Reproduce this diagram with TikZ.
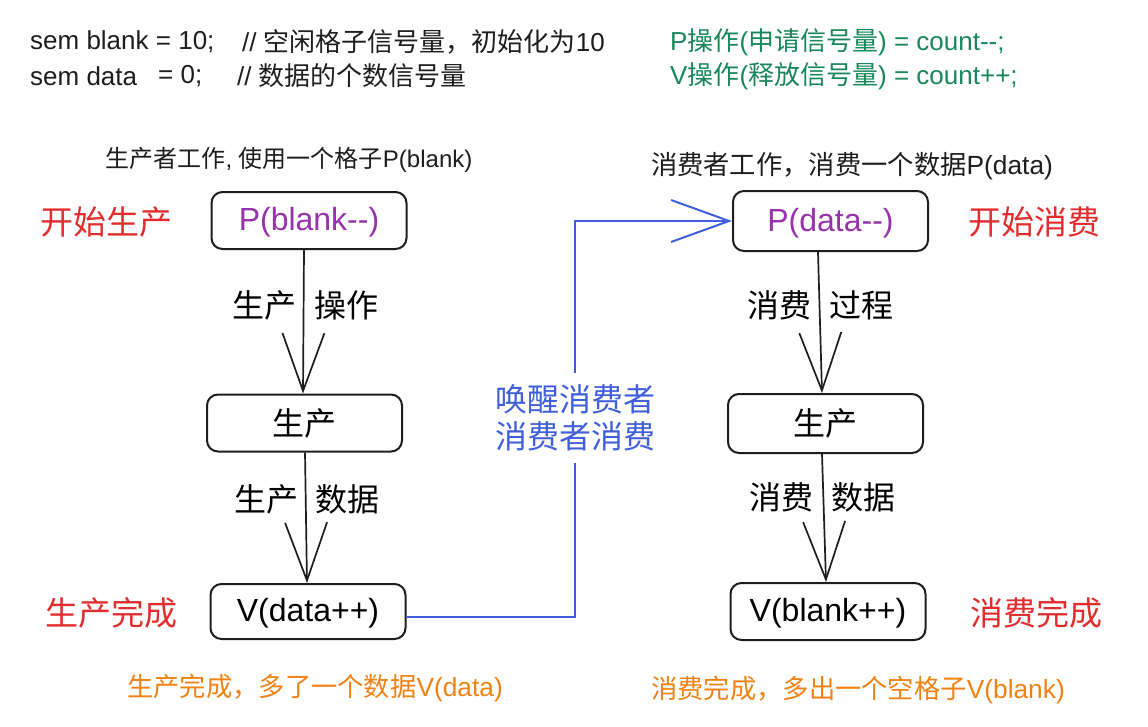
\documentclass[tikz,border=0pt]{standalone}
\usepackage{fontspec}
\setmainfont{Liberation Sans}[Ligatures=TeXOff]
\newfontfamily\zhfont{Noto Sans CJK SC}
\newcommand{\zh}[1]{{\zhfont #1}}
\newcommand{\lowr}[1]{\raisebox{-2pt}[\height][\depth]{#1}}
\usetikzlibrary{arrows.meta}
\definecolor{pur}{RGB}{150,50,170}
\definecolor{redl}{RGB}{225,45,45}
\definecolor{grn}{RGB}{25,135,90}
\definecolor{org}{RGB}{240,130,20}
\definecolor{blu}{RGB}{65,95,220}
\definecolor{ink}{RGB}{30,30,30}
\begin{document}
\begin{tikzpicture}[x=1pt,y=-1pt,
  big/.style={font=\fontsize{32}{37}\selectfont},
  toptext/.style={font=\fontsize{26}{30}\selectfont, anchor=west, inner sep=0pt, text=ink},
  sub/.style={font=\fontsize{24}{28}\selectfont, text=ink},
  subl/.style={font=\fontsize{26.3}{30}\selectfont, text=ink},
  box/.style={draw=ink, line width=2pt, rounded corners=11pt, minimum width=195pt, minimum height=57pt, inner sep=0pt, big},
  arr/.style={draw=ink, line width=1.7pt, -{Straight Barb[length=58pt,width=42pt]}},
  side/.style={font=\fontsize{33}{37}\selectfont, text=redl}
]
\useasboundingbox[fill=white] (0,0) rectangle (1148,726);

% header text
\node[toptext] (t1a) at (30,42) {sem blank = 10;};
\node[toptext] (t1b) at (242,42) {// \zh{空闲格子信号量，初始化为}10};
\node[toptext] (t2a) at (30,76) {sem data};
\node[toptext] (t2b) at (158,76) {= 0;};
\node[toptext] (t2c) at (237,76) {// \zh{数据的个数信号量}};
\node[toptext, text=grn] (g1) at (670,42) {P\zh{操作}(\zh{申请信号量}) = count--;};
\node[toptext, text=grn] (g2) at (670,76) {V\zh{操作}(\zh{释放信号量}) = count++;};

% captions
\node[sub] (s1) at (289,160) {\zh{生产者工作}, \zh{使用一个格子}P(blank)};
\node[subl] (s2) at (852,166) {\zh{消费者工作，消费一个数据}P(data)};
\node[subl, text=org] (s3) at (315,688) {\zh{生产完成，多了一个数据}V(data)};
\node[subl, text=org] (s4) at (858,690) {\zh{消费完成，多出一个空格子}V(blank)};

% side labels
\node[side] (r1) at (106,222) {\zh{开始生产}};
\node[side] (r2) at (111,613) {\zh{生产完成}};
\node[side] (r3) at (1034,222) {\zh{开始消费}};
\node[side] (r4) at (1036,613) {\zh{消费完成}};

% boxes
\node[box, text=pur] (pb) at (309,220.5) {\lowr{P(blank--)}};
\node[box] (lp) at (304.5,423) {\zh{生产}};
\node[box, minimum height=55pt] (vd) at (308,611.5) {\lowr{V(data++)}};
\node[box, text=pur, minimum height=60pt] (pd) at (830.5,221) {\lowr{P(data--)}};
\node[box, minimum height=59pt] (rp) at (825.5,423.5) {\zh{生产}};
\node[box] (vb) at (828,611.5) {\lowr{V(blank++)}};

% vertical arrows
\draw[arr] ([xshift=-5pt]pb.south) -- ([xshift=-1.5pt]lp.north);
\draw[arr] ([xshift=0.5pt]lp.south) -- ([xshift=-1pt]vd.north);
\draw[arr] ([xshift=-12.5pt]pd.south) -- ([xshift=-3.5pt]rp.north);
\draw[arr] ([xshift=-3.5pt]rp.south) -- ([xshift=-2pt]vb.north);

% edge labels
\node[big] (e1) at (264.5,305) {\zh{生产}};
\node[big] (e2) at (346.5,305) {\zh{操作}};
\node[big] (e3) at (266,499) {\zh{生产}};
\node[big] (e4) at (347.5,499) {\zh{数据}};
\node[big] (e5) at (779,305) {\zh{消费}};
\node[big] (e6) at (861.5,305) {\zh{过程}};
\node[big] (e7) at (781,497) {\zh{消费}};
\node[big] (e8) at (863,497) {\zh{数据}};

% wake-up connector
\coordinate (cx) at (575,418);
\draw[blu, line width=2pt, -{Straight Barb[length=58pt,width=42pt]}]
  ([yshift=-5pt]vd.east) -- ([yshift=-5pt]vd.east -| cx) -- (pd.west -| cx) -- (pd.west);
\node[big, text=blu, fill=white, align=center, inner xsep=2pt, inner ysep=12pt] (wk) at (cx) {\zh{唤醒消费者}\\\zh{消费者消费}};
\end{tikzpicture}
\end{document}
